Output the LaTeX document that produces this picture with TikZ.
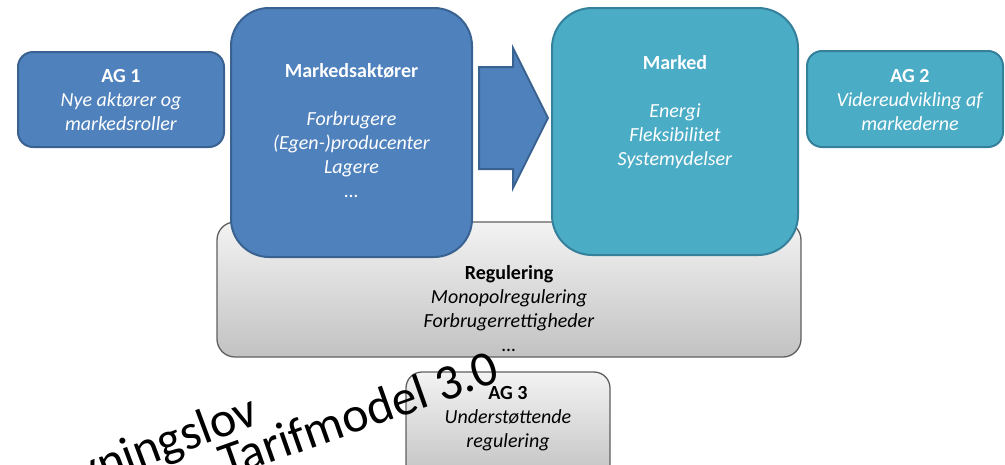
\documentclass[tikz,border=0pt]{standalone}
\usepackage{fontspec}
\setmainfont{Carlito}
\definecolor{ablue}{HTML}{4F81BD}
\definecolor{ablueline}{HTML}{3A6291}
\definecolor{ateal}{HTML}{4BACC6}
\definecolor{atealline}{HTML}{35809A}
\definecolor{agreytop}{HTML}{F3F3F3}
\definecolor{agreybot}{HTML}{C2C2C2}
\definecolor{agreyline}{HTML}{5F5F5F}
\begin{document}
\begin{tikzpicture}[x=1pt,y=-1pt,
  box/.style={rectangle, draw, line width=2pt, inner sep=0pt},
  bluebox/.style={box, fill=ablue, draw=ablueline},
  tealbox/.style={box, fill=ateal, draw=atealline},
  greybox/.style={box, draw=agreyline, line width=1.3pt, top color=agreytop, bottom color=agreybot},
  txt/.style={align=center, font=\fontsize{20}{24}\selectfont, inner sep=0pt, anchor=base},
  wtxt/.style={txt, text=white},
  ktxt/.style={txt, text=black},
  flowshape/.style={fill=ablue, draw=ablueline, line width=2pt, line join=miter},
  big/.style={font=\fontsize{50}{60}\selectfont, inner sep=0pt, anchor=base east, text=black}
]
\clip (0,0) rectangle (1005,464);

% regulation frame behind the two central blocks
\node[greybox, rounded corners=18pt, minimum width=584pt, minimum height=135pt] (reg) at (509,289.5) {};

% working groups and central blocks
\node[bluebox, rounded corners=15pt, minimum width=206pt, minimum height=95pt] (ag1) at (121,99.5) {};
\node[bluebox, rounded corners=38pt, minimum width=241pt, minimum height=249pt] (actors) at (351.5,132.5) {};
\node[tealbox, rounded corners=40pt, minimum width=246pt, minimum height=247pt] (market) at (675,131.5) {};
\node[tealbox, rounded corners=15pt, minimum width=196pt, minimum height=96pt] (ag2) at (905,99) {};
\node[greybox, rounded corners=16pt, minimum width=204pt, minimum height=108pt] (ag3) at (508,426) {};

% block arrow from the actors to the market
\draw[flowshape] (479,67) -- (513,67) -- (513,48) -- (548,118) -- (513,188) -- (513,169) -- (479,169) -- cycle;

% texts (anchored at the baseline of their last line)
\node[wtxt] (t1) at (121,130) {\textbf{AG 1}\\\textit{Nye aktører og}\\\textit{markedsroller}};
\node[wtxt] (tact) at (351.5,197) {\textbf{Markedsaktører}\\[24pt]\textit{Forbrugere}\\\textit{(Egen-)producenter}\\\textit{Lagere}\\\textit{…}};
\node[wtxt] (tmar) at (675,165) {\textbf{Marked}\\[24pt]\textit{Energi}\\\textit{Fleksibilitet}\\\textit{Systemydelser}};
\node[wtxt] (t2) at (910,130) {\textbf{AG 2}\\\textit{Videreudvikling af}\\\textit{markederne}};
\node[ktxt] (treg) at (509,351) {\textbf{Regulering}\\\textit{Monopolregulering}\\\textit{Forbrugerrettigheder}\\\textit{…}};
\node[ktxt] (t3) at (508,447) {\textbf{AG 3}\\\textit{Understøttende}\\\textit{regulering}};

% slanted words at the bottom
\node[big, rotate=20.5] (law) at (261,423) {Elforsyningslov};
\node[big, rotate=19.5] (tariff) at (502,381) {Tarifmodel 3.0};
\end{tikzpicture}
\end{document}
